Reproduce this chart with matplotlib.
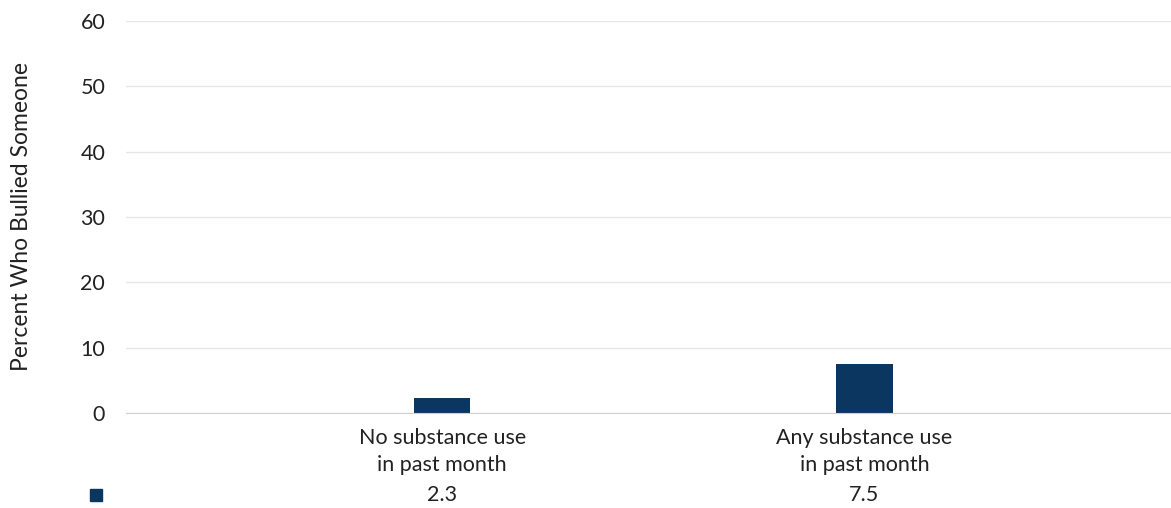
import matplotlib.pyplot as plt
import matplotlib.transforms as mtransforms

# dados do grafico
categorias = ["No substance use\nin past month", "Any substance use\nin past month"]
valores = [2.3, 7.5]
rotulos_valores = ["2.3", "7.5"]
yticks = [0, 10, 20, 30, 40, 50, 60]

cor_barra = "#0b3660"
plt.rcParams['font.family'] = ['Lato', 'DejaVu Sans']
tam = 15.5

fig = plt.figure(figsize=(11.71, 5.08), dpi=100)
ax = fig.add_axes([0.1076, 0.187, 0.892, 0.7717])

x = list(range(len(categorias)))
ax.bar(x, valores, width=0.133, color=cor_barra, zorder=3)

ax.set_xlim(-0.749, 1.725)
ax.set_ylim(0, 60)
ax.set_yticks(yticks)
ax.yaxis.grid(True, color="#e6e6e6", linewidth=1, zorder=0)
ax.tick_params(axis='y', length=0, pad=15, labelsize=tam, labelcolor="#222222")
ax.tick_params(axis='x', length=0, pad=11, labelsize=tam, labelcolor="#222222")
ax.set_xticks(x)
ax.set_xticklabels(categorias, linespacing=1.45)
for s in ["top", "right", "left"]:
    ax.spines[s].set_visible(False)
ax.spines["bottom"].set_color("#d0d0d0")
ax.spines["bottom"].set_zorder(4)

ax.set_ylabel("Percent Who Bullied Someone", fontsize=16.5, color="#222222")
ax.yaxis.set_label_coords(-0.09, 0.5)

# tabela de dados embaixo
trans = mtransforms.blended_transform_factory(ax.transData, ax.transAxes)
for xi, r in zip(x, rotulos_valores):
    ax.text(xi, -0.21, r, transform=trans, ha="center", va="center",
            fontsize=tam, color="#222222")
ax.plot([-0.029], [-0.21], marker="s", markersize=9, color=cor_barra,
        transform=ax.transAxes, clip_on=False)

fig.savefig("out.png", dpi=100)
